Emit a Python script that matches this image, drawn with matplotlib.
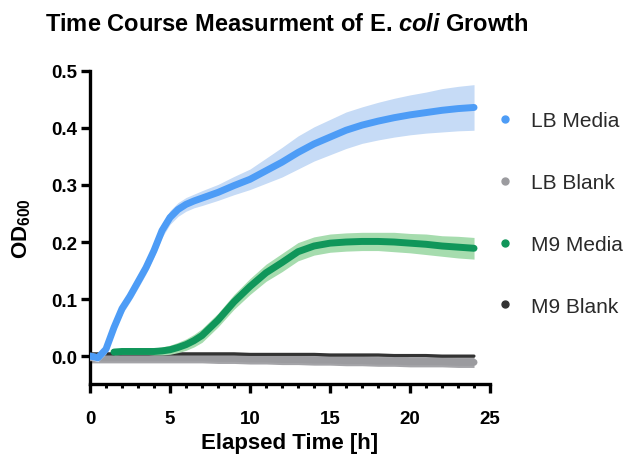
import numpy as np
import matplotlib
matplotlib.use("Agg")
import matplotlib.pyplot as plt
from matplotlib.lines import Line2D

# time points (h)
t = np.array([0, 0.5, 1, 1.5, 2, 2.5, 3, 3.5, 4, 4.5, 5, 5.5, 6, 6.5, 7,
              8, 9, 10, 11, 12, 13, 14, 15, 16, 17, 18, 19, 20, 21, 22, 23, 24])

# OD600 means and spread
lb_media = [0, -0.003, 0.012, 0.05, 0.083, 0.105, 0.13, 0.155, 0.185, 0.22,
            0.243, 0.257, 0.266, 0.272, 0.277, 0.287, 0.299, 0.31, 0.325, 0.34,
            0.357, 0.372, 0.384, 0.396, 0.405, 0.412, 0.418, 0.423, 0.427, 0.431,
            0.434, 0.436]
lb_media_err = [0.006, 0.007, 0.008, 0.009, 0.01, 0.01, 0.011, 0.011, 0.011, 0.012,
                0.012, 0.012, 0.012, 0.012, 0.013, 0.014, 0.016, 0.018, 0.022, 0.026,
                0.029, 0.03, 0.031, 0.032, 0.032, 0.033, 0.034, 0.035, 0.036, 0.038,
                0.039, 0.04]

m9_media = [np.nan, np.nan, np.nan, 0.007, 0.008, 0.008, 0.008, 0.008, 0.008, 0.009,
            0.011, 0.015, 0.02, 0.027, 0.036, 0.063, 0.095, 0.122, 0.146, 0.164,
            0.183, 0.193, 0.198, 0.2, 0.201, 0.201, 0.2, 0.198, 0.196, 0.193,
            0.191, 0.189]
m9_media_err = [0.006, 0.006, 0.006, 0.005, 0.005, 0.005, 0.005, 0.005, 0.006, 0.007,
                0.008, 0.009, 0.01, 0.011, 0.012, 0.012, 0.013, 0.014, 0.015, 0.016,
                0.016, 0.016, 0.016, 0.016, 0.016, 0.016, 0.017, 0.017, 0.018, 0.018,
                0.019, 0.019]

lb_blank = [-0.003, -0.003, -0.003, -0.003, -0.003, -0.003, -0.003, -0.003, -0.003, -0.003,
            -0.003, -0.003, -0.003, -0.003, -0.003, -0.004, -0.004, -0.005, -0.005, -0.006,
            -0.006, -0.007, -0.007, -0.008, -0.008, -0.009, -0.009, -0.01, -0.01, -0.01,
            -0.011, -0.011]
lb_blank_err = 0.009

m9_blank = [0.004, 0.004, 0.004, 0.004, 0.004, 0.004, 0.004, 0.004, 0.004, 0.004,
            0.004, 0.004, 0.004, 0.004, 0.004, 0.004, 0.004, 0.003, 0.003, 0.003,
            0.003, 0.003, 0.002, 0.002, 0.002, 0.002, 0.001, 0.001, 0.001, 0.0,
            0.0, 0.0]
m9_blank_err = 0.002

labels = ["LB Media", "LB Blank", "M9 Media", "M9 Blank"]
colors = ["#4d9cf6", "#9b9b9f", "#10965a", "#333333"]
band_colors = ["#c6dbf6", "#a4a4a8", "#a6dcae", "#555555"]
line_widths = [5.0, 5.0, 5.0, 2.2]

plt.rcParams["font.family"] = ["Liberation Sans", "DejaVu Sans"]
plt.rcParams["mathtext.fontset"] = "custom"
plt.rcParams["mathtext.rm"] = "Liberation Sans:bold"
plt.rcParams["mathtext.it"] = "Liberation Sans:italic:bold"

fig = plt.figure(figsize=(6.31, 4.64), dpi=100)
ax = fig.add_axes([0.1426, 0.1703, 0.634, 0.6746])

series = [(lb_media, lb_media_err), (lb_blank, lb_blank_err),
          (m9_media, m9_media_err), (m9_blank, m9_blank_err)]
# drawing order: blanks first, media on top
order = [1, 3, 2, 0]
for k, i in enumerate(order):
    y, e = series[i]
    y = np.array(y, dtype=float)
    e = np.broadcast_to(np.array(e, dtype=float), y.shape)
    ax.fill_between(t, y - e, y + e, color=band_colors[i], lw=0, zorder=2 + 2 * k)
    ax.plot(t, y, color=colors[i], lw=line_widths[i], solid_capstyle="round",
            solid_joinstyle="round", zorder=3 + 2 * k)

ax.set_xlim(0, 25)
ax.set_ylim(-0.049, 0.5)
ax.set_xticks([0, 5, 10, 15, 20, 25])
ax.set_xticks(np.arange(0, 26, 1), minor=True)
ax.set_yticks([0.0, 0.1, 0.2, 0.3, 0.4, 0.5])
ax.set_yticklabels(["0.0", "0.1", "0.2", "0.3", "0.4", "0.5"])
ax.spines["top"].set_visible(False)
ax.spines["right"].set_visible(False)
for s in ["left", "bottom"]:
    ax.spines[s].set_linewidth(2.4)
ax.tick_params(which="major", direction="out", length=6.5, width=2.4,
               labelsize=13.5, pad=3)
ax.tick_params(axis="x", which="major", pad=12)
ax.tick_params(which="minor", direction="out", length=3, width=2.2)
for lab in ax.get_xticklabels() + ax.get_yticklabels():
    lab.set_fontweight("bold")

ax.set_xlabel("Elapsed Time [h]", fontsize=16, fontweight="bold", labelpad=4)
ax.set_ylabel(r"OD$_{600}$", fontsize=16, fontweight="bold", labelpad=13)
fig.text(0.071, 0.947, r"Time Course Measurment of E. $\mathit{coli}$ Growth",
         fontsize=17, fontweight="bold", ha="left", va="center")

handles = [Line2D([], [], ls="none", marker="o", ms=5, color=c) for c in colors]
leg = fig.legend(handles, labels, loc="upper left", bbox_to_anchor=(0.768, 0.78),
                 frameon=False, fontsize=15, labelspacing=2.05, handlelength=1.0,
                 handletextpad=0.75, borderpad=0, labelcolor="#2a2a2a")

fig.savefig("out.png", dpi=100)
